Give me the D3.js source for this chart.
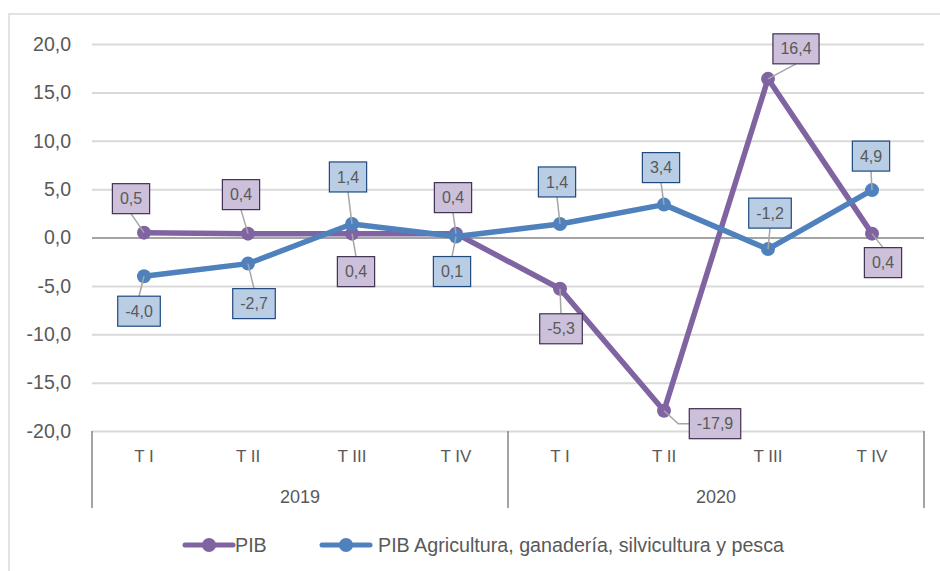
<!DOCTYPE html>
<html>
<head>
	<meta charset="utf-8">
	<script src="https://d3js.org/d3.v7.min.js"></script>
	<title>PIB trimestral</title>
	<style>
		body { margin: 0; background: #fff; }
		text { font-family: "Liberation Sans", Arial, sans-serif; fill: #595959; }
	</style>
</head>
<body>
	<div id="chart"></div>

	<script type="text/javascript">
		// data
		var years = ["2019", "2020"];
		var quarters = ["T I", "T II", "T III", "T IV"];
		var pib = [0.5, 0.4, 0.4, 0.4, -5.3, -17.9, 16.4, 0.4];
		var agro = [-4.0, -2.7, 1.4, 0.1, 1.4, 3.4, -1.2, 4.9];
		var seriesNames = ["PIB", "PIB Agricultura, ganadería, silvicultura y pesca"];
		var yTicks = [-20, -15, -10, -5, 0, 5, 10, 15, 20];

		// where each data label box sits, relative to its point (px)
		var pibLabelShift = [[-13, -34], [-7, -39], [4, 38], [-3, -36], [1, 40], [51, 13], [28, -30], [11, 29]];
		var agroLabelShift = [[-5, 35], [6, 40], [-4, -47], [-4, 35], [-3, -42], [-3, -37], [2, -36], [-1, -34]];

		var width = 940, height = 571;
		var plotLeft = 92, plotRight = 924, plotTop = 44, plotBottom = 431;

		var svg = d3.select("#chart").append("svg")
			.attr("width", width)
			.attr("height", height);

		// chart border
		svg.append("rect")
			.attr("x", 9).attr("y", 14)
			.attr("width", 960).attr("height", 600)
			.attr("fill", "none")
			.attr("stroke", "#d9d9d9")
			.attr("stroke-width", 1.5);

		var cats = d3.range(years.length * quarters.length);
		var x = d3.scaleBand().domain(cats).range([plotLeft, plotRight]);
		var y = d3.scaleLinear().domain([-20, 20]).range([plotBottom, plotTop]);
		var fmt = function(v){ return d3.format(".1f")(v).replace(".", ",").replace("−", "-"); };

		// y axis with gridlines
		var yAxis = svg.append("g")
			.attr("transform", "translate(" + plotLeft + ",0)")
			.call(d3.axisLeft(y).tickValues(yTicks).tickSize(-(plotRight - plotLeft)).tickPadding(21).tickFormat(fmt));
		yAxis.select(".domain").remove();
		yAxis.selectAll(".tick line")
			.attr("stroke", function(d){ return d == 0 ? "#868686" : "#d9d9d9"; })
			.attr("stroke-width", function(d){ return d == 0 ? 1.5 : 2; });
		yAxis.selectAll(".tick text")
			.attr("font-size", "19.5px")
			.attr("font-family", "Liberation Sans, Arial, sans-serif")
			.attr("fill", "#595959");

		// category axis, two levels
		var xAxis = svg.append("g")
			.attr("transform", "translate(0," + plotBottom + ")")
			.call(d3.axisBottom(x).tickSize(0).tickPadding(19).tickFormat(function(d){ return quarters[d % quarters.length]; }));
		xAxis.select(".domain").remove();
		xAxis.selectAll(".tick text")
			.attr("font-size", "17px")
			.attr("font-family", "Liberation Sans, Arial, sans-serif")
			.attr("fill", "#595959");

		var groupEdges = d3.range(years.length + 1).map(function(i){
			return i < years.length ? x(i * quarters.length) : x(cats.length - 1) + x.bandwidth();
		});
		svg.selectAll(".sep")
			.data(groupEdges).enter()
			.append("line")
			.attr("class", "sep")
			.attr("x1", function(d){ return d; })
			.attr("x2", function(d){ return d; })
			.attr("y1", plotBottom)
			.attr("y2", plotBottom + 77)
			.attr("stroke", "#868686")
			.attr("stroke-width", 1.5);

		svg.selectAll(".year")
			.data(years).enter()
			.append("text")
			.attr("class", "year")
			.attr("x", function(d, i){ return (groupEdges[i] + groupEdges[i + 1]) / 2; })
			.attr("y", plotBottom + 72)
			.attr("text-anchor", "middle")
			.attr("font-size", "18px")
			.text(function(d){ return d; });

		// series
		var series = [
			{ name: seriesNames[0], values: pib, color: "#8064a2", fill: "#ccc0da", border: "#3f3151", shift: pibLabelShift },
			{ name: seriesNames[1], values: agro, color: "#4f81bd", fill: "#b9cde5", border: "#1f497d", shift: agroLabelShift }
		];
		var cx = function(d, i){ return x(i) + x.bandwidth() / 2; };
		var line = d3.line().x(cx).y(function(d){ return y(d); });

		var layers = svg.selectAll(".series")
			.data(series).enter()
			.append("g")
			.attr("class", "series");

		layers.append("path")
			.attr("d", function(s){ return line(s.values); })
			.attr("fill", "none")
			.attr("stroke", function(s){ return s.color; })
			.attr("stroke-width", 5.5)
			.attr("stroke-linejoin", "round");

		layers.each(function(s){
			d3.select(this).selectAll("circle")
				.data(s.values).enter()
				.append("circle")
				.attr("cx", cx)
				.attr("cy", function(d){ return y(d); })
				.attr("r", 7)
				.attr("fill", s.color);
		});

		// data labels with leader lines
		var labelLayer = svg.append("g");
		series.forEach(function(s){
			s.values.forEach(function(v, i){
				var px = cx(v, i), py = y(v);
				var bx = px + s.shift[i][0], by = py + s.shift[i][1];
				var g = labelLayer.append("g");
				var t = g.append("text")
					.attr("x", bx).attr("y", by)
					.attr("dy", "0.35em")
					.attr("text-anchor", "middle")
					.attr("font-size", "16px")
					.attr("fill", "#404040")
					.text(fmt(v));
				var w = t.node().getComputedTextLength() + 15, h = 30;
				var pts;
				if (Math.abs(px - bx) > w / 2 && Math.abs(py - by) < h / 2) {
					var ex = px < bx ? bx - w / 2 : bx + w / 2;
					var ax = px < bx ? ex - 11 : ex + 11;
					pts = [[px, py], [ax, by], [ex, by]];
				} else {
					var ey = py < by ? by - h / 2 : by + h / 2;
					pts = [[px, py], [bx, ey]];
				}
				g.insert("path", "text")
					.attr("d", d3.line()(pts))
					.attr("fill", "none")
					.attr("stroke", "#a6a6a6")
					.attr("stroke-width", 1.5);
				g.insert("rect", "text")
					.attr("x", bx - w / 2).attr("y", by - h / 2)
					.attr("width", w).attr("height", h)
					.attr("fill", s.fill)
					.attr("stroke", s.border)
					.attr("stroke-width", 1.2);
			});
		});

		// legend
		var legend = svg.append("g").attr("transform", "translate(0,545)");
		var legendX = [185, 322];
		series.forEach(function(s, i){
			var lg = legend.append("g").attr("transform", "translate(" + legendX[i] + ",0)");
			lg.append("line")
				.attr("x1", 0).attr("x2", 48)
				.attr("stroke", s.color)
				.attr("stroke-width", 5)
				.attr("stroke-linecap", "round");
			lg.append("circle")
				.attr("cx", 24).attr("r", 7)
				.attr("fill", s.color);
			lg.append("text")
				.attr("x", i == 0 ? 50 : 56).attr("dy", "0.35em")
				.attr("font-size", "19.7px")
				.text(s.name);
		});
	</script>
</body>
</html>
